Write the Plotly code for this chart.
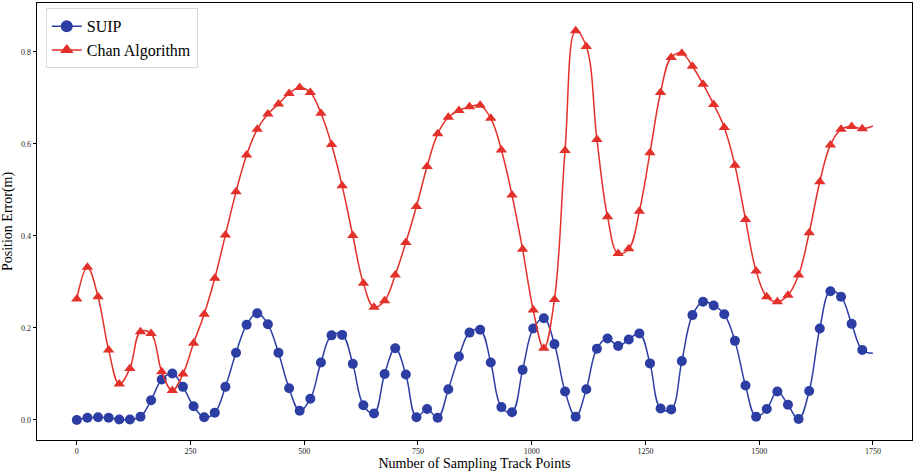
import numpy as np
import plotly.graph_objects as go

# Sampling indices of the marked points (every 1750/75 track points), plus the line end
n_marks = 75
x_end = 1750
x_marks = [i * x_end / n_marks for i in range(n_marks)]

suip = [0.000, 0.005, 0.006, 0.005, 0.001, 0.001, 0.007, 0.043, 0.088, 0.101,
        0.072, 0.030, 0.006, 0.016, 0.072, 0.146, 0.207, 0.232, 0.208, 0.146,
        0.069, 0.020, 0.046, 0.125, 0.184, 0.185, 0.122, 0.032, 0.014, 0.100,
        0.156, 0.099, 0.006, 0.024, 0.005, 0.067, 0.138, 0.190, 0.196, 0.125,
        0.028, 0.017, 0.109, 0.199, 0.221, 0.165, 0.062, 0.007, 0.067, 0.155,
        0.177, 0.161, 0.175, 0.188, 0.123, 0.025, 0.023, 0.128, 0.228, 0.257,
        0.249, 0.230, 0.172, 0.075, 0.007, 0.024, 0.062, 0.033, 0.002, 0.063,
        0.199, 0.280, 0.268, 0.209, 0.152]
suip_end = 0.145

chan = [0.263, 0.332, 0.268, 0.152, 0.078, 0.112, 0.192, 0.188, 0.105, 0.064,
        0.100, 0.167, 0.230, 0.308, 0.402, 0.496, 0.576, 0.632, 0.665, 0.687,
        0.710, 0.723, 0.712, 0.667, 0.599, 0.509, 0.401, 0.297, 0.245, 0.259,
        0.315, 0.386, 0.464, 0.551, 0.622, 0.658, 0.673, 0.681, 0.684, 0.656,
        0.587, 0.489, 0.371, 0.239, 0.156, 0.262, 0.586, 0.846, 0.812, 0.610,
        0.442, 0.362, 0.372, 0.454, 0.581, 0.712, 0.788, 0.797, 0.769, 0.730,
        0.686, 0.636, 0.554, 0.436, 0.324, 0.268, 0.257, 0.271, 0.315, 0.407,
        0.518, 0.598, 0.632, 0.638, 0.633]
chan_end = 0.639

x_ticks = [0, 250, 500, 750, 1000, 1250, 1500, 1750]
y_ticks = [0.0, 0.2, 0.4, 0.6, 0.8]

blue = "#2c3ea3"
red = "#e4302a"
font_family = "Liberation Serif, Times New Roman, serif"

fig = go.Figure()

series = [("SUIP", suip, suip_end, blue, "circle", 10),
          ("Chan Algorithm", chan, chan_end, red, "triangle-up", 10)]

for name, vals, end, color, sym, size in series:
    # smooth line through all points
    fig.add_trace(go.Scatter(x=x_marks + [x_end], y=vals + [end], mode="lines",
                             line=dict(color=color, width=1.5, shape="spline", smoothing=1.1),
                             showlegend=False, hoverinfo="skip"))
    # markers
    fig.add_trace(go.Scatter(x=x_marks, y=vals, mode="markers",
                             marker=dict(color=color, symbol=sym, size=size, line=dict(width=0)),
                             showlegend=False, name=name))
    # legend entry
    fig.add_trace(go.Scatter(x=[None], y=[None], mode="lines+markers", name=name,
                             line=dict(color=color, width=1.5),
                             marker=dict(color=color, symbol=sym, size=12)))

fig.update_layout(
    width=914, height=473,
    margin=dict(l=37, r=2, t=3, b=33),
    paper_bgcolor="white", plot_bgcolor="white",
    font=dict(family=font_family, color="black"),
    legend=dict(x=0.01, y=0.988, xanchor="left", yanchor="top",
                font=dict(size=16, family=font_family, color="black"),
                bgcolor="rgba(255,255,255,0.8)", bordercolor="#d9d9d9", borderwidth=1,
                tracegroupgap=0, itemwidth=30),
    showlegend=True,
)
fig.update_xaxes(range=[-87.5, 1836], tickvals=x_ticks, ticktext=[str(t) for t in x_ticks],
                 showgrid=False, zeroline=False, showline=True, mirror=True,
                 linecolor="black", linewidth=1, ticks="outside", ticklen=3.5,
                 tickcolor="black", tickfont=dict(size=8, family=font_family, color="#222222"),
                 title=dict(text="Number of Sampling Track Points",
                            font=dict(size=14, family=font_family, color="black"),
                            standoff=3))
fig.update_yaxes(range=[-0.0435, 0.9065], tickvals=y_ticks, ticktext=[f"{t:.1f}" for t in y_ticks],
                 showgrid=False, zeroline=False, showline=True, mirror=True,
                 linecolor="black", linewidth=1, ticks="outside", ticklen=3.5,
                 tickcolor="black", tickfont=dict(size=8, family=font_family, color="#222222"),
                 title=dict(text="Position Error(m)",
                            font=dict(size=14, family=font_family, color="black"),
                            standoff=9))

fig.write_html("out.html", config={"displayModeBar": False},
               post_script="document.body.style.margin='0';")
